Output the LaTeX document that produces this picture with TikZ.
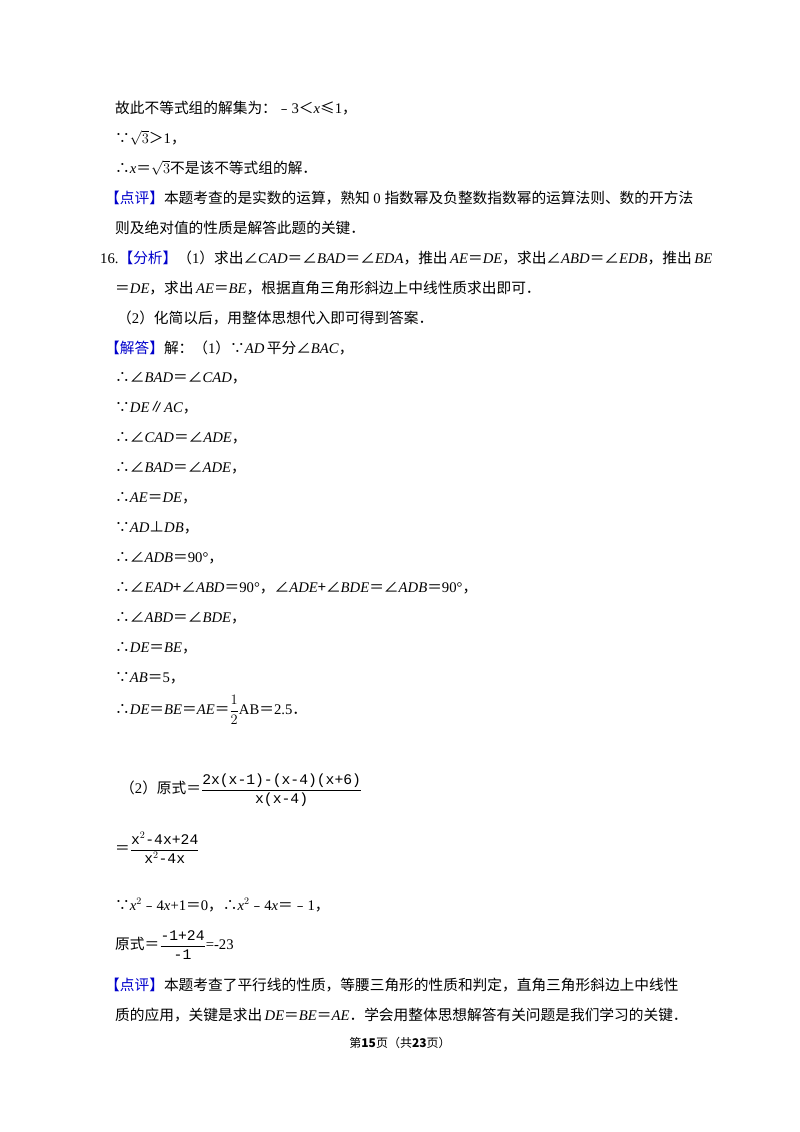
\documentclass[tikz,border=0pt]{standalone}
\usepackage{fontspec}
\setmainfont{Noto Sans CJK SC}
\newfontfamily\tn{Liberation Serif}
\newfontfamily\mo{Liberation Mono}
\newcommand\vv[1]{{\tn\itshape #1}}
\newcommand\nn[1]{{\tn #1}}
\newcommand\bl[1]{{\color{blue!80!black}#1}}
\newcommand\eq{＝}
\begin{document}
\begin{tikzpicture}[x=1pt,y=-1pt,
  ln/.style={anchor=west,inner sep=0pt,font=\fontsize{14.7}{16}\selectfont}]
\useasboundingbox (0,0) rectangle (800,1132);
\fill[white] (0,0) rectangle (800,1132);
\node[ln] (l1) at (115,108) {故此不等式组的解集为：﹣\nn{3}＜\vv{x}≤\nn{1}，};
\node[ln] (l2) at (115,138) {∵$\sqrt{3}$＞\nn{1}，};
\node[ln] (l3) at (115,168) {∴\vv{x}\eq$\sqrt{3}$不是该不等式组的解．};
\node[ln] (l4) at (105,198) {\bl{【点评】}本题考查的是实数的运算，熟知\nn{ 0 }指数幂及负整数指数幂的运算法则、数的开方法};
\node[ln] (l5) at (115,228) {则及绝对值的性质是解答此题的关键．};
\node[ln] (l6) at (100,258) {\nn{16.}\bl{【分析】}（\nn{1}）求出∠\vv{CAD}\eq∠\vv{BAD}\eq∠\vv{EDA}，推出\,\vv{AE}\eq\vv{DE}，求出∠\vv{ABD}\eq∠\vv{EDB}，推出\,\vv{BE}};
\node[ln] (l7) at (115,288) {\eq\vv{DE}，求出\,\vv{AE}\eq\vv{BE}，根据直角三角形斜边上中线性质求出即可．};
\node[ln] (l8) at (117,318) {（\nn{2}）化简以后，用整体思想代入即可得到答案．};
\node[ln] (l9) at (105,348) {\bl{【解答】}解：（\nn{1}）∵\vv{AD}\,平分∠\vv{BAC}，};
\node[ln] (l10) at (115,378) {∴∠\vv{BAD}\eq∠\vv{CAD}，};
\node[ln] (l11) at (115,408) {∵\vv{DE}∥\vv{AC}，};
\node[ln] (l12) at (115,438) {∴∠\vv{CAD}\eq∠\vv{ADE}，};
\node[ln] (l13) at (115,468) {∴∠\vv{BAD}\eq∠\vv{ADE}，};
\node[ln] (l14) at (115,498) {∴\vv{AE}\eq\vv{DE}，};
\node[ln] (l15) at (115,528) {∵\vv{AD}⊥\vv{DB}，};
\node[ln] (l16) at (115,558) {∴∠\vv{ADB}\eq\nn{90°}，};
\node[ln] (l17) at (115,588) {∴∠\vv{EAD}+∠\vv{ABD}\eq\nn{90°}，∠\vv{ADE}+∠\vv{BDE}\eq∠\vv{ADB}\eq\nn{90°}，};
\node[ln] (l18) at (115,618) {∴∠\vv{ABD}\eq∠\vv{BDE}，};
\node[ln] (l19) at (115,648) {∴\vv{DE}\eq\vv{BE}，};
\node[ln] (l20) at (115,678) {∵\vv{AB}\eq\nn{5}，};
\node[ln] (l21) at (115,710) {∴\vv{DE}\eq\vv{BE}\eq\vv{AE}\eq$\displaystyle\frac{1}{2}$\nn{AB}\eq\nn{2.5}．};
\node[ln] (l22) at (120,790) {（\nn{2}）原式\eq$\displaystyle\frac{\hbox{\mo 2x(x-1)-(x-4)(x+6)}}{\hbox{\mo x(x-4)}}$};
\node[ln] (l23) at (115,848) {\eq$\displaystyle\frac{\hbox{\mo x$^2$-4x+24}}{\hbox{\mo x$^2$-4x}}$};
\node[ln] (l24) at (115,905) {∵\vv{x}$^2$﹣\nn{4}\vv{x}\nn{+1}\eq\nn{0}，∴\vv{x}$^2$﹣\nn{4}\vv{x}\eq﹣\nn{1}，};
\node[ln] (l25) at (115,945) {原式\eq$\displaystyle\frac{\hbox{\mo -1+24}}{\hbox{\mo -1}}$\nn{=-23}};
\node[ln] (l26) at (105,985) {\bl{【点评】}本题考查了平行线的性质，等腰三角形的性质和判定，直角三角形斜边上中线性};
\node[ln] (l27) at (115,1015) {质的应用，关键是求出\,\vv{DE}\eq\vv{BE}\eq\vv{AE}．学会用整体思想解答有关问题是我们学习的关键．};
\node[inner sep=0pt,font=\fontsize{12}{14}\selectfont] (ft) at (400,1043) {第\textbf{15}页（共\textbf{23}页）};
\end{tikzpicture}
\end{document}
